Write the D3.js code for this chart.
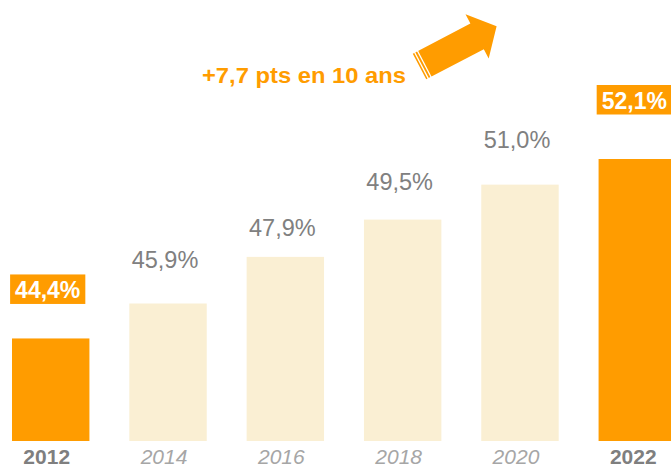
<!DOCTYPE html>
<html>
<head>
<meta charset="utf-8">
<script src="https://cdn.jsdelivr.net/npm/d3@7"></script>
<style>
    body { margin: 0; background: #fff; }
    svg { display: block; font-family: Arial, "Liberation Sans", sans-serif; }
</style>
</head>
<body>
<svg width="671" height="468"></svg>
<script>
'use strict';

const years = ["2012", "2014", "2016", "2018", "2020", "2022"];
const shares = [44.4, 45.9, 47.9, 49.5, 51.0, 52.1];
const labels = ["44,4%", "45,9%", "47,9%", "49,5%", "51,0%", "52,1%"];
const highlighted = ["2012", "2022"];
const trendText = "+7,7 pts en 10 ans";

// how far each value label sits above its bar (px)
const labelLift = [40, 35, 21, 30, 37, 50];

const orange = "#ff9c00", pale = "#faefd3";

let svg = d3.select("svg");

let x = d3.scaleBand().domain(years).range([12, 676]).paddingInner(0.34).paddingOuter(0);
let y = d3.scaleLinear().domain([40, 52.1]).range([441, 159]);

let isHi = function (yr) {
    return highlighted.indexOf(yr) >= 0;
};

// bars
svg.selectAll(".bar")
    .data(years)
    .enter().append("rect")
    .attr("class", "bar")
    .attr("x", function (d) { return x(d); })
    .attr("y", function (d, i) { return y(shares[i]); })
    .attr("width", x.bandwidth())
    .attr("height", function (d, i) { return y(40) - y(shares[i]); })
    .attr("fill", function (d) { return isHi(d) ? orange : pale; });

// value labels
let lab = svg.selectAll(".val")
    .data(years)
    .enter().append("g")
    .attr("class", "val");

lab.each(function (d, i) {
    let g = d3.select(this);
    let cx = x(d) + x.bandwidth() / 2 - 3;
    let by = y(shares[i]) - labelLift[i];
    let t = g.append("text")
        .attr("x", cx)
        .attr("y", by)
        .attr("text-anchor", "middle")
        .text(labels[i]);
    if (isHi(d)) {
        t.attr("font-size", 23).attr("font-weight", "bold").attr("fill", "#fff");
        let bb = t.node().getBBox();
        g.insert("rect", "text")
            .attr("x", bb.x - 5)
            .attr("y", by - 24)
            .attr("width", bb.width + 10)
            .attr("height", 29.5)
            .attr("fill", orange);
    } else {
        t.attr("font-size", 23.5).attr("fill", "#808080");
    }
});

// x axis
let axis = svg.append("g")
    .attr("transform", "translate(-4,444)")
    .call(d3.axisBottom(x).tickSize(0).tickPadding(5));
axis.select(".domain").remove();
axis.selectAll("text")
    .attr("font-family", "Arial, 'Liberation Sans', sans-serif")
    .attr("font-size", 21)
    .attr("font-weight", function (d) { return isHi(d) ? "bold" : "normal"; })
    .attr("font-style", function (d) { return isHi(d) ? "normal" : "italic"; })
    .attr("fill", function (d) { return isHi(d) ? "#7f7f7f" : "#a6a6a6"; });

// trend annotation
svg.append("text")
    .attr("x", 202)
    .attr("y", 83)
    .attr("font-size", 21.5)
    .attr("font-weight", "bold")
    .attr("fill", orange)
    .attr("textLength", 204)
    .attr("lengthAdjust", "spacingAndGlyphs")
    .text(trendText);

let arrow = svg.append("g")
    .attr("transform", "translate(419.5,66.5) rotate(-27.6)");
arrow.append("path")
    .attr("d", "M0,-14.5 L65,-14.5 L65,-25 L87,0 L65,25 L65,14.5 L0,14.5 Z")
    .attr("fill", orange);
arrow.selectAll(".stripe")
    .data([2.2, 5.4])
    .enter().append("line")
    .attr("x1", function (d) { return d; })
    .attr("x2", function (d) { return d; })
    .attr("y1", -16)
    .attr("y2", 16)
    .attr("stroke", "#fff")
    .attr("stroke-width", 1.3);
</script>
</body>
</html>
